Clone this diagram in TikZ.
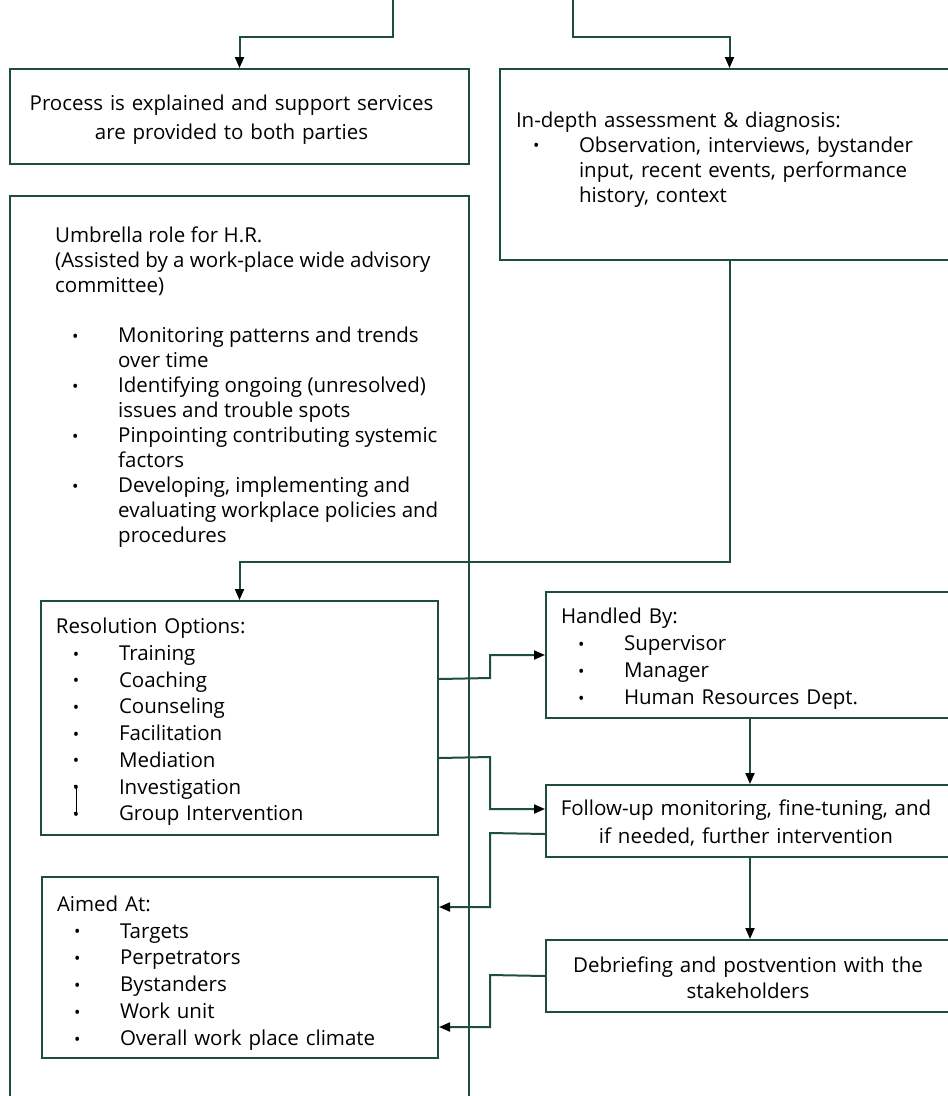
\documentclass[tikz,border=0pt]{standalone}
\usepackage{fontspec}
\setmainfont{Open Sans}
\usetikzlibrary{arrows.meta}
\definecolor{dg}{HTML}{1F4E40}
\newcommand\bul{\makebox[46pt][l]{\fontsize{17}{17}\selectfont\raisebox{0.5pt}{•}}}
\newcommand\bitem{\hspace*{17pt}\bul}
\newcommand\icont{\hspace*{63pt}}
\newcommand\tstrut[1]{\rule{0pt}{#1}}
\tikzset{
  box/.style={draw=dg, line width=2pt, rectangle, inner sep=0pt, anchor=north west},
  conn/.style={draw=dg, line width=2pt},
  arr/.style={conn, -{Triangle[length=11pt,width=9pt,color=black]}},
  lbl/.style={font=\fontsize{20.5}{26.7}\selectfont},
}
\begin{document}
\begin{tikzpicture}[x=1pt,y=-1pt]
\useasboundingbox (0,0) rectangle (948,1096);
\clip (0,0) rectangle (948,1096);

% boxes
\node[box, lbl, font=\fontsize{20.5}{29}\selectfont, minimum width=459pt, minimum height=95pt,
  text width=459pt, align=center] (proc) at (9,68)
  {\hspace*{-16pt}\tstrut{22.6pt}Process is explained and support services\\ \hspace*{-16pt}are provided to both parties};
\node[box, lbl, font=\fontsize{20.5}{25}\selectfont, minimum width=459pt, minimum height=191pt,
  text width=427pt, inner xsep=16pt, align=left] (assess) at (499,68)
  {In-depth assessment \& diagnosis:\\
   \bitem Observation, interviews, bystander\\
   \icont input, recent events, performance\\
   \icont history, context\\[-10pt]\mbox{}};
\node[box, minimum width=459pt, minimum height=930pt] (umb) at (9,195) {};
\node[lbl, font=\fontsize{20.5}{25}\selectfont, align=left, anchor=north west, inner sep=0pt] (umbtext) at (55,227)
  {Umbrella role for H.R.\\
   (Assisted by a work-place wide advisory\\
   committee)\\
   \mbox{}\\
   \bitem Monitoring patterns and trends\\
   \icont over time\\
   \bitem Identifying ongoing (unresolved)\\
   \icont issues and trouble spots\\
   \bitem Pinpointing contributing systemic\\
   \icont factors\\
   \bitem Developing, implementing and\\
   \icont evaluating workplace policies and\\
   \icont procedures};
\node[box, lbl, minimum width=397pt, minimum height=234pt, text width=367pt, inner xsep=15pt, align=left] (res) at (40,600)
  {\tstrut{23.6pt}Resolution Options:\\
   \bitem Training\\
   \bitem Coaching\\
   \bitem Counseling\\
   \bitem Facilitation\\
   \bitem Mediation\\
   \bitem Investigation\\
   \bitem Group Intervention};
\node[box, lbl, font=\fontsize{20.5}{26.9}\selectfont, minimum width=396pt, minimum height=181pt, text width=366pt, inner xsep=15pt, align=left] (aimed) at (41,876)
  {\tstrut{26.6pt}Aimed At:\\
   \bitem Targets\\
   \bitem Perpetrators\\
   \bitem Bystanders\\
   \bitem Work unit\\
   \bitem Overall work place climate};
\node[box, lbl, font=\fontsize{20.5}{27}\selectfont, minimum width=408pt, minimum height=126pt, text width=378pt, inner xsep=15pt, align=left] (handled) at (545,591)
  {\tstrut{23.6pt}Handled By:\\
   \bitem Supervisor\\
   \bitem Manager\\
   \bitem Human Resources Dept.};
\node[box, lbl, font=\fontsize{20.5}{28}\selectfont, minimum width=408pt, minimum height=72pt,
  text width=408pt, align=center] (followup) at (545,784)
  {\hspace*{-8pt}\tstrut{20.6pt}Follow-up monitoring, fine-tuning, and\\ \hspace*{-8pt}if needed, further intervention};
\node[box, lbl, font=\fontsize{20.5}{26}\selectfont, minimum width=408pt, minimum height=72pt, text width=408pt, align=center] (debrief) at (545,939)
  {\hspace*{-4pt}\tstrut{19.6pt}Debriefing and postvention with the\\ \hspace*{-4pt}stakeholders};

% odd little bracket beside two bullets
\draw[black, line width=0.6pt] (74,785) -- (76,785) -- (76,812) -- (74,812);

% connectors
\coordinate (tl) at (393,-2);
\coordinate (tr) at (573,-2);
\draw[arr] (tl) -- (393,37) -| (proc.north);
\draw[arr] (tr) -- (573,37) -| (assess.north);
\draw[arr] (assess.south) -- ++(0,301) -| (res.north);
\draw[arr] ([yshift=39pt]res.east) -- (490,678) |- (handled.west);
\draw[arr] ([yshift=-40pt]res.east) -- (490,757) |- ([yshift=12pt]followup.west);
\draw[arr] (handled.south) -- (followup.north);
\draw[arr] (followup.south) -- (debrief.north);
\draw[arr] ([yshift=-13pt]followup.west) -- (490,833) |- ([yshift=60.5pt]aimed.east);
\draw[arr] (debrief.west) -- (490,975) |- ([yshift=-59.5pt]aimed.east);
\end{tikzpicture}
\end{document}
